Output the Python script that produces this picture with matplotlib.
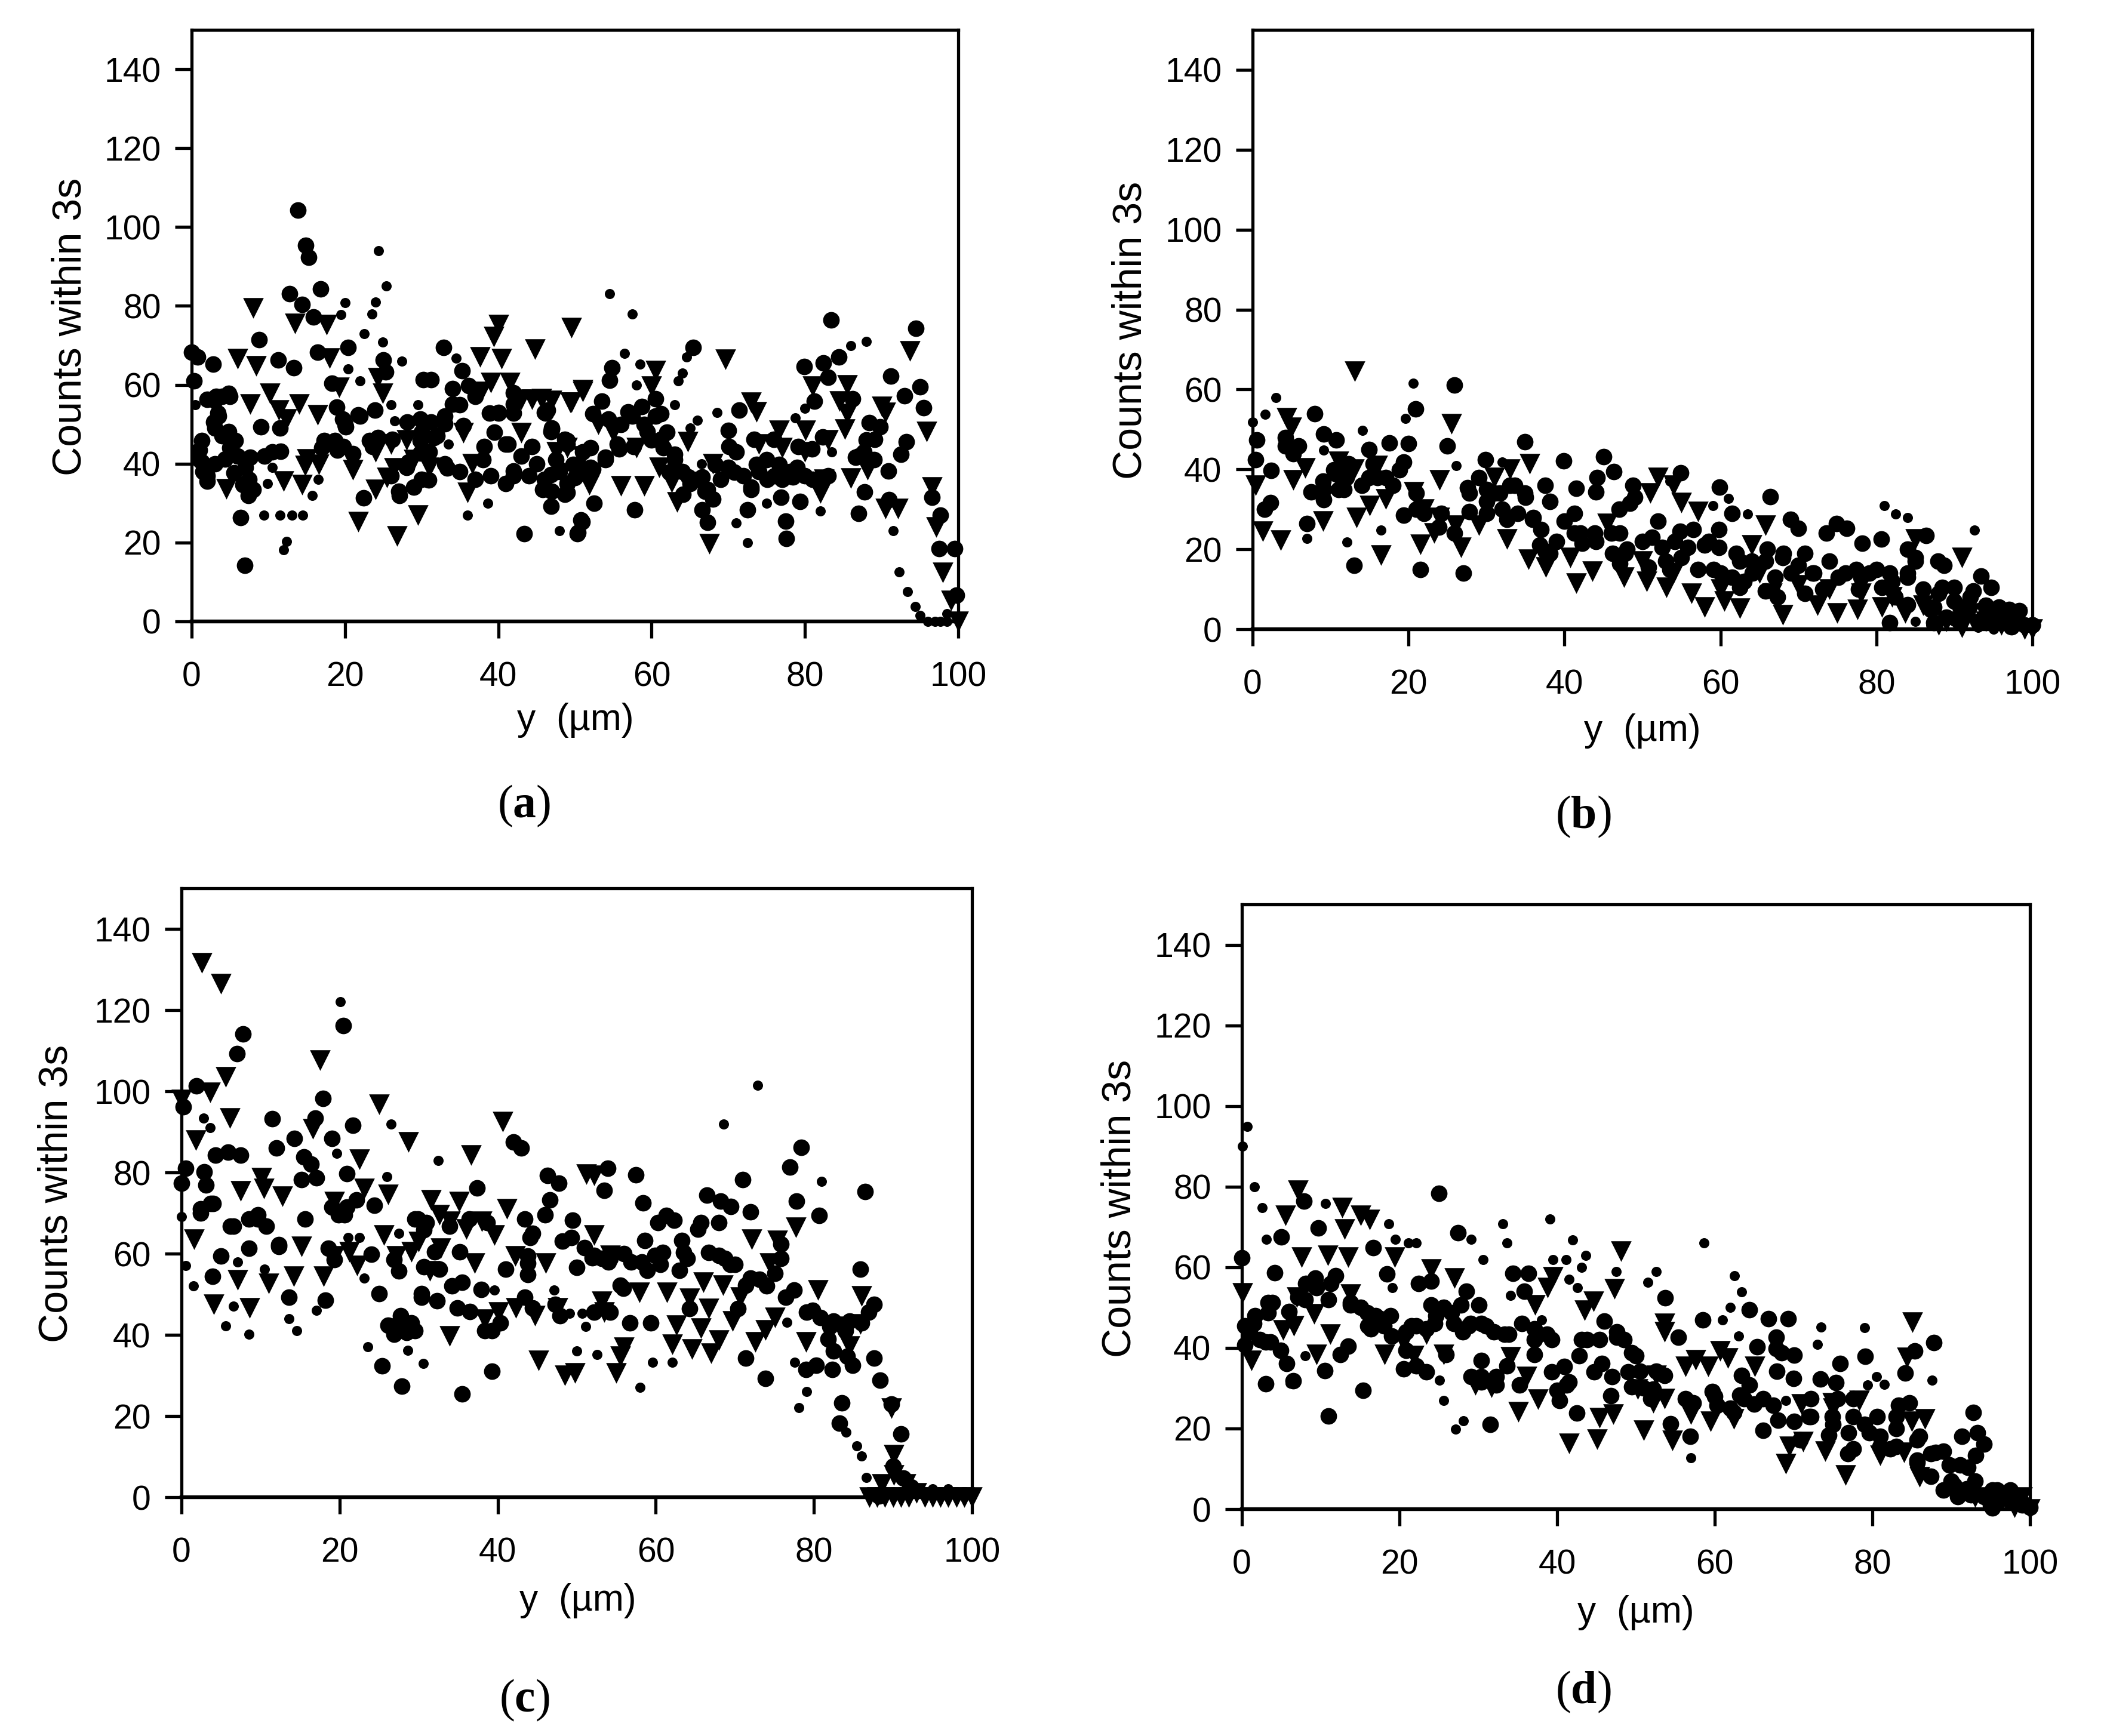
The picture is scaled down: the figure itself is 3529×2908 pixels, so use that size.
#!/usr/bin/env python3
import matplotlib
matplotlib.use("Agg")
import matplotlib.pyplot as plt

plt.rcParams["font.family"] = ["Liberation Sans", "DejaVu Sans"]
plt.rcParams["mathtext.fontset"] = "custom"
plt.rcParams["mathtext.rm"] = "Liberation Serif"
plt.rcParams["mathtext.bf"] = "Liberation Serif:bold"

WIDTH = 3530
HEIGHT = 2908

x_ticks = [0, 20, 40, 60, 80, 100]
y_ticks = [0, 20, 40, 60, 80, 100, 120, 140]

# (y position in um, counts), one list per marker kind
a_circles = [
    (13.9, 104.3), (14.9, 95.4), (15.3, 92.4), (16.8, 84.3), (12.8, 83.1), (14.4, 80.3), (15.9, 77.2), (8.8, 71.4),
    (0, 68.3), (0.8, 67), (2.8, 65.3), (11.3, 66.3), (13.3, 64.4), (16.4, 68.3), (20.4, 69.4), (0.3, 61), (18.3, 60.4),
    (32.9, 69.4), (35.3, 63.6), (25, 66.3), (25.3, 63.3), (23.9, 53.6), (18.9, 54.4), (1.3, 45.8), (6.4, 26.3), (6.9, 14.3),
    (43.4, 22.2), (50.3, 22.2), (50.9, 25.3), (22.4, 31.3), (1, 41), (1.5, 38), (2, 35.5), (3, 40), (4, 47), (5, 44),
    (6, 42), (7, 39), (7.5, 36), (8, 33.5), (9.5, 42), (10.5, 43), (3, 56), (4, 57), (5, 57), (3.5, 52), (3, 49), (11.5, 49),
    (17, 44), (19, 43.5), (21, 42.5), (20, 50), (22, 52), (30, 48), (32, 47), (31, 43), (33, 40), (35, 38), (37, 36), (28, 39),
    (26, 37), (27, 33), (29, 34), (30, 36), (33, 52), (35, 55), (37, 57), (41, 45), (43, 42), (45, 40), (42, 37), (44, 37),
    (40, 53), (42, 58), (46, 53), (47, 49), (49, 45), (51, 43), (39.5, 48), (38, 41), (39, 37), (46, 36), (47, 33), (49, 35),
    (54.8, 64.4), (54.5, 61.2), (65.4, 69.5), (83.4, 76.5), (94.5, 74.3), (84.4, 67), (82.4, 65.6), (79.9, 64.6), (83, 61.9),
    (91.2, 62.2), (95, 59.5), (93, 57.2), (95.5, 54.2), (71.4, 53.6), (88.4, 50.4), (70, 48.4), (53.5, 55.8), (46.4, 53.6),
    (47, 48.8), (57.8, 28.3), (50.8, 25.8), (50.4, 22.5), (52.5, 30), (48.7, 32.2), (79.4, 30.4), (76.9, 31.5), (77.5, 25.5),
    (77.6, 21), (72.5, 28.3), (67.3, 25.1), (87, 27.4), (91, 30.9), (96.6, 31.5), (97.7, 27), (87.8, 32.8), (90.9, 38.2),
    (93.2, 45.6), (92.5, 42.4), (97.5, 18.4), (99.5, 18.4), (99.8, 6.6), (56, 50), (57.5, 52), (59, 50), (60.5, 52), (62, 48),
    (52, 44), (54, 41), (55.5, 45), (60, 46), (61.5, 44), (63, 41), (64, 38), (65, 35), (66, 36), (67, 33), (68, 31), (69, 36),
    (70, 39), (71, 43), (72, 37), (73, 34), (74, 38), (75, 41), (76, 37), (77, 36), (78, 38), (79, 39), (80, 37), (81, 36),
    (82, 35), (83, 37), (87, 42), (88, 46), (89, 41), (48, 38), (50, 36.5), (52, 39), (47.5, 41),
    (2, 56.3), (3.2, 57), (4.8, 57.8), (3.4, 52.8), (2.9, 50.5), (4.8, 48.2), (5.7, 45.8), (4.4, 41.2), (7.6, 41.6), (5.5, 37.7),
    (6.7, 34.6), (7.4, 31.9), (2, 37), (1, 43.5), (1.3, 40.4), (11.6, 43.1), (9, 49.3), (18.7, 45.8), (19.8, 44.3), (17.3, 45.8),
    (20.1, 49.3), (21.7, 52.4), (19.7, 51.3), (23.6, 44.3), (23.2, 45.8), (26.2, 46.2), (24.3, 46.6), (28.1, 50.5), (29.8, 51.3),
    (31.2, 50.5), (33, 50.1), (35.4, 49.7), (31.6, 46.6), (29.8, 45.8), (29.8, 42.7), (28.3, 40.4), (33.3, 38.9), (30.9, 35.8),
    (27.1, 31.9), (30.2, 61.3), (31.2, 61.3), (34, 59), (36.1, 59.8), (34, 55.1), (40, 52.8), (38.9, 52.8), (41.3, 45), (38.2, 44.3),
    (44.4, 44.3), (42, 55.1), (42, 52.8), (46.2, 52.8), (46.9, 48.2), (49, 45.8), (42, 38.1), (41, 35), (45.8, 33.4), (46.9, 37.3),
    (49, 32.7), (46.9, 29.2), (50.7, 38.1), (48.7, 46.2), (52.3, 52.6), (54.4, 51.3), (56.9, 53.2), (58.7, 54.5), (60.5, 56.4),
    (61.2, 52.6), (59.4, 48.1), (55.8, 43.7), (57.6, 44.3), (54, 41.7), (49.8, 39.8), (48, 38.6), (52.3, 38.6), (61.2, 46.2),
    (63, 42.4), (62.3, 37.9), (64.8, 36.6), (66.6, 36.6), (68.3, 39.8), (70.1, 44.3), (70.8, 37.9), (67.3, 33.4), (66.6, 28.3),
    (64.1, 32.2), (73.4, 46.2), (75.9, 46.2), (73.7, 39.8), (76.6, 39.8), (79.1, 44.3), (80.9, 43.7), (82.3, 46.8), (78.4, 36.6),
    (75.1, 36), (73, 33.4), (81.9, 35.4), (87.7, 43), (86.6, 41.7), (89.1, 46.2), (89.8, 49.4), (81.2, 55.8), (86.2, 56.4),
]
a_triangles = [
    (8, 79.5), (13.5, 75.6), (17.6, 75.2), (6, 66.6), (8.4, 64.8), (18, 66.7), (40, 75.2), (39.4, 72.2), (49.5, 74.5), (44.8, 69),
    (37.6, 67.1), (40.4, 66.6), (10.2, 57.8), (7.6, 55.1), (14, 55.1), (11.4, 53.6), (12.4, 51.3), (16.4, 52.4), (24.3, 61.7),
    (24.9, 57.8), (19.2, 59.4), (39, 60.5), (41.5, 60.5), (37.8, 58.2), (44.4, 56.3), (43, 56.3), (47, 56), (49.5, 55.5), (51, 58.2),
    (43, 47.8), (35.4, 47.8), (15, 41.2), (14.8, 39.5), (16.6, 39.8), (21, 38.5), (4.5, 33.6), (12, 35.6), (14.4, 34.6), (24, 33.4),
    (25.5, 36.5), (26.4, 38.9), (36, 32.7), (36.6, 40), (29.5, 26.9), (26.8, 21.7), (21.7, 25.3), (24, 43), (26, 45), (28, 46),
    (29, 41), (31, 39), (51, 58.7), (49.4, 55.5), (45.6, 56.4), (60.5, 63.5), (60, 59.6), (69.6, 66.5), (93.7, 68.6), (81, 59.6),
    (85.5, 60), (84.5, 55.8), (85.5, 52.6), (85.2, 48.8), (73, 55.5), (73.7, 53.2), (76.6, 48.4), (80.1, 48.4), (64.7, 45.6),
    (56, 34.4), (59, 34.4), (51.9, 34.7), (96.6, 34), (86, 36.3), (88.2, 38.5), (90.5, 28.6), (92.1, 28.6), (97.1, 23.9), (98, 12.4),
    (99.1, 5.3), (100, 0), (67.5, 19.7), (90, 54.5), (90.5, 53), (95.9, 48.1), (82, 32.5), (82.5, 36), (63.3, 30.3), (62.6, 35.3),
    (47.6, 43), (49, 44), (51, 42), (53, 50), (55, 48), (58, 44), (61, 39), (68, 40), (74, 45), (77, 44), (80, 43), (83, 46),
]
a_dots = [
    (24.4, 94), (25.4, 85), (20, 80.9), (19.5, 77.8), (24, 81), (23.5, 78), (22.5, 73), (24.9, 70.8), (27.4, 66), (20.4, 64), (22, 61),
    (34.5, 66.7), (26, 55), (29.5, 55), (26.5, 50.9), (33.5, 45), (10.5, 39), (9.9, 35), (9.4, 27), (11.5, 27), (13.1, 27), (14.5, 27),
    (12.4, 20.3), (12, 18.1), (16.5, 36), (15.7, 32), (36, 27), (38.6, 30), (48, 23), (54.5, 83.1), (57.5, 78), (56.5, 67.9), (58.5, 65.2),
    (58, 60), (64, 63), (63.5, 61), (63, 55), (68.5, 53), (66, 51), (65, 49), (86, 70), (88, 71), (71, 25), (72.5, 20), (82, 28), (75, 30),
    (66.5, 40), (83.5, 43), (91.5, 23), (92.3, 12.5), (93.4, 7.6), (94.4, 3.8), (95, 1.5), (96, 0), (97.7, 0), (80, 54), (78.7, 51.6),
    (64.6, 67), (0.5, 55), (98.5, 2), (97, 0), (98.5, 0),
]

b_circles = [
    (25.9, 61.1), (20.9, 55.1), (8, 53.9), (34.9, 46.9), (25, 45.9), (39.9, 42.2), (45, 43.2), (29.9, 42.4), (14.9, 44.9), (17.5, 46.6),
    (20, 46.4), (4.2, 45.9), (5.2, 43.9), (0.5, 47.4), (0.4, 42.4), (2.4, 39.7), (2.3, 31.7), (1.5, 30), (7, 26.5), (13, 16), (21.5, 15),
    (27, 14), (44, 34.4), (44.2, 37.9), (46.3, 39.4), (41.5, 35.2), (37.5, 36), (27.6, 35.4), (27.8, 29.5), (38.1, 32), (9.1, 32.4),
    (7.5, 34.4), (10.4, 39.9), (12, 38), (14, 36), (16, 38), (18, 36), (11, 35), (9, 37), (29, 38), (31, 34), (33, 36), (35, 33), (36, 28),
    (30, 32), (32, 30), (34, 29), (37, 25), (40, 27), (42, 24), (44, 22), (46, 24), (48, 20), (50, 22), (39, 22), (47, 30), (49, 33),
    (54.9, 39.2), (59.9, 35.5), (66.4, 33.2), (74.9, 26.5), (76.2, 25.2), (73.6, 24), (69, 27.5), (70, 25.2), (86.4, 23.5), (80.6, 22.5),
    (78.2, 21.5), (61.5, 29), (87.9, 17), (88.7, 16), (93.4, 13.3), (81.7, 1.6), (54.8, 24.5), (56.5, 25), (59.8, 25), (52, 27), (58, 21),
    (62, 19), (64, 17), (66, 20), (68, 18), (70, 16), (72, 14), (74, 17), (76, 14), (78, 13), (80, 15), (82, 12), (84, 14), (86, 10),
    (88, 9), (90, 7), (92, 8), (94, 6), (96, 4), (98, 2), (99, 1), (85, 17), (55, 18), (53, 17), (60, 14), (63, 12), (67, 13),
    (87, 5), (89, 3), (91, 4), (93, 2), (95, 1.5), (97, 5), (100, 1),
    (10.7, 38.9), (12.3, 39.9), (9.1, 35), (11.7, 35), (14.9, 37.9), (17.1, 37.9), (19.4, 41.9), (18.8, 39.9), (15.5, 41.4), (12.3, 41.4),
    (21, 34), (21, 30), (19.4, 28.5), (22, 29), (24.2, 29), (23.9, 25.5), (25.9, 24), (27.8, 34), (30, 35), (31.7, 34), (33.6, 36), (34.9, 34),
    (30, 29), (32.6, 27.5), (35.9, 27.5), (37.5, 19.5), (36.8, 21), (38.1, 19), (41.3, 24), (41.3, 29), (43.9, 24), (42.3, 21.5), (46.2, 19),
    (47.1, 24), (47.8, 19), (47.1, 16.5), (48.8, 36), (48.4, 31.5), (4.2, 47.9), (5.9, 45.9), (9.1, 48.9), (10.7, 47.4),
    (50.8, 15.5), (52.5, 20.5), (54.1, 22), (55.8, 20.5), (53.5, 15), (51.2, 23), (58.5, 22), (59.8, 20.5), (57.1, 15), (59.1, 15), (62.5, 17),
    (61.5, 13), (64.1, 14), (65.8, 17), (68.1, 19), (70.8, 19), (69.1, 14), (71.8, 14), (70.8, 9), (73.1, 10), (75.1, 13), (77.4, 15), (79.1, 14),
    (81.7, 14), (77.7, 10), (80.7, 10.5), (82.4, 8), (84, 13), (85, 18), (84, 20), (88.4, 10.5), (90, 10.5), (92.4, 9.5), (94.7, 10.5), (87.4, 5.6),
    (90.7, 5.6), (94, 5.6), (95.7, 5.6), (98.3, 4.6), (97.3, 0.6), (87.4, 1.6), (90.7, 1.6), (95.7, 1.6), (100, 1), (84, 6.1), (65.8, 9.6), (67.3, 8),
    (62.5, 10.5),
]
b_triangles = [
    (13.1, 64.6), (25.5, 51.4), (4.4, 52.9), (5, 50.5), (1.3, 24.5), (3.6, 22.2), (16.5, 18.5), (21.5, 21.2), (26.7, 20.5), (0.4, 36),
    (24, 37.4), (20.7, 34.4), (6.7, 40.4), (5.2, 37.4), (13.3, 28), (17.1, 32.5), (35.5, 41.4), (32.6, 22.5), (37.6, 15.5), (41.5, 11.5),
    (43.6, 14.5), (47.6, 13), (45.5, 26.5), (35.4, 17.5), (40.7, 18), (23.3, 24), (15, 31), (11, 42), (13, 40), (16, 41), (9, 27),
    (22, 30), (24, 28), (26, 26), (29, 26), (33, 40), (31, 38), (65.8, 26), (55, 31.7), (57.1, 29.5), (64, 21), (91, 18), (85, 22.5),
    (58, 5.6), (62.5, 5.3), (68, 3.6), (66.6, 9), (72.4, 6), (77.6, 5), (75, 4), (83.7, 4.1), (80.7, 5.6), (53.1, 10.5), (50.5, 12),
    (56.3, 9), (60.5, 7), (52, 38), (54, 36), (51, 34), (50, 17), (54, 14), (60, 10), (65, 14), (70, 11), (74, 10), (78, 9), (82, 8),
    (86, 6), (89, 2), (92, 4), (94, 2), (96, 1), (98, 3), (99, 0), (100, 0), (88, 1), (91, 0.5),
]
b_dots = [
    (3, 57.9), (1.6, 53.8), (0, 51.8), (20.6, 61.6), (19.6, 52.8), (14.1, 49.7), (9.1, 44.8), (26.1, 40.9), (32, 41.9), (16.5, 24.8),
    (12.1, 21.8), (7, 22.7), (53.5, 37), (61, 32.7), (59, 31), (63.5, 28.9), (81, 30.9), (82.5, 28.9), (84, 27.9), (92.6, 24.8),
    (85, 2), (87, 1), (90, 2), (93, 0.5), (95, 0), (97, 0), (98, 1),
]

c_circles = [
    (7.8, 114.1), (7, 109.3), (20.5, 116.2), (17.9, 98.2), (1.9, 101.3), (0.2, 96.2), (11.5, 93.2), (16.9, 93.4), (21.7, 91.6), (19, 88.4),
    (14.3, 88.4), (12, 86.1), (42, 87.5), (43, 86.1), (4.3, 84.2), (5.9, 85), (7.5, 84.2), (0.5, 81), (2.9, 80.1), (0, 77.4), (3.1, 76.9),
    (15.5, 83.8), (16.4, 82), (15.2, 78.3), (17.1, 78.7), (20.9, 79.7), (37.4, 76.2), (46.3, 79.2), (47.7, 77.4), (2.4, 70), (4, 72.3),
    (6.2, 66.8), (9.7, 68.6), (8.5, 61.3), (12.3, 62.2), (5, 59.4), (15.6, 68.6), (19.9, 69.6), (24, 59.9), (29.9, 68.6), (30.7, 65.9),
    (3.9, 54.4), (13.6, 49.3), (25, 50.2), (30.4, 50.2), (32.3, 48.4), (34.2, 52.1), (37.9, 51.2), (18.2, 48.6), (26.1, 42.4), (27.5, 42.9),
    (29.1, 42.9), (26.9, 40.1), (28.5, 40.6), (34.9, 46.6), (39.3, 31), (25.4, 32.3), (27.9, 27.3), (35.5, 25.4), (38.4, 41), (48.2, 63.1),
    (46, 69.6), (44.1, 64), (41, 56.2), (43.8, 57.6), (43.4, 49.3), (53.9, 81.1), (57.5, 79.4), (58.4, 72.5), (78.4, 86.2), (77, 81.3),
    (86.5, 75.3), (72, 70.3), (66.5, 74.4), (68.2, 73), (69.5, 71.6), (71, 78.2), (61.3, 69.4), (49.5, 68.3), (49.3, 63.9), (51, 61.4),
    (50, 56.6), (53.5, 75.6), (77.8, 73), (80.7, 69.4), (85.9, 56.2), (87.6, 47.5), (87.6, 34.3), (88.4, 28.8), (89.8, 23), (91, 15.6),
    (83.5, 23.3), (83.2, 18.2), (73.9, 29.3), (71.4, 34.3), (82.3, 31.4), (80.3, 32.5), (79, 31.4), (79.8, 46), (77.5, 51.1), (56.7, 43),
    (59.4, 43), (55.5, 52.2), (59.9, 59.5), (58.2, 58), (68, 67.6), (68, 59.5), (70, 57.3), (66.7, 60.3), (63.5, 60.3), (63.3, 63.2),
    (65.7, 67.6), (52, 59), (54, 58), (56, 60), (82, 42), (84, 41), (86, 43), (74, 52), (72, 54),
    (9.7, 69.5), (10.7, 66.8), (6.6, 66.8), (2.4, 71), (3.7, 72.3), (12.3, 61.7), (8.5, 68.6), (20.9, 71.4), (19, 71.4), (24.4, 71.9), (20.6, 69.5),
    (22.1, 73.2), (29.5, 68.6), (31, 67.7), (32, 60.4), (35.2, 60.4), (33.9, 66.8), (36.4, 68.6), (38.7, 67.7), (43.4, 68.6), (46.6, 73.2), (44.4, 65),
    (30.7, 56.7), (32.6, 56.2), (35.5, 53), (30.4, 49.3), (36.5, 45.7), (40.3, 42.9), (39.3, 41), (27.7, 44.7), (29.5, 41), (43.8, 59.4), (43.8, 54.8),
    (44.4, 46.6), (47.9, 44.7), (47.3, 47.5), (18.6, 61.3), (19.3, 58.5), (26.9, 58.5), (27.5, 55.8),
    (52.2, 59.5), (53.2, 58.8), (54.2, 58.8), (56.9, 58), (58.9, 55.9), (60.6, 57.3), (60.9, 60.3), (58.6, 63.2), (64, 58.8), (63, 55.9), (65.3, 66.1),
    (62.3, 68.3), (60.3, 67.6), (68.7, 58.8), (69.4, 57.3), (75.8, 62.4), (75.8, 58.8), (75.1, 55.1), (73.1, 53.7), (71.4, 52.2), (76.4, 49.3),
    (79.1, 45.6), (80.8, 44.2), (82.5, 43.4), (84.5, 43.4), (86.9, 45.6), (81.8, 39), (82.5, 36.1), (84.2, 34.7), (84.9, 32.5), (90, 7.6), (91.3, 4.7),
    (92.3, 2.5), (88.2, 0.3), (54.2, 45.6), (52.2, 45.6), (64.3, 46.4), (70.4, 46.4), (55.9, 51.5),
]
c_triangles = [
    (2.6, 131.6), (5, 126.5), (17.5, 107.7), (5.6, 103.6), (3.6, 99.7), (0, 98), (6.1, 93.4), (25, 96.7), (28.7, 87.5), (40.6, 92.5),
    (36.6, 84.3), (1.8, 87.9), (10.1, 78.7), (7.5, 75.5), (10.4, 76), (12.8, 74.1), (22.5, 83.3), (16.6, 90.7), (19.3, 72.8), (23.1, 76),
    (26.1, 74.6), (31.6, 73.2), (35.1, 72.8), (32.6, 69.6), (1.6, 63.6), (15.2, 61.7), (25.6, 64.5), (21.2, 60.4), (19.3, 59.4), (22.2, 57.1),
    (29.1, 60.4), (27.2, 59.4), (7.1, 53.5), (11, 52.6), (14.2, 54.4), (18, 54.4), (4.1, 47.5), (8.6, 46.6), (31.4, 55.8), (37.1, 57.6),
    (32.8, 61.3), (39.6, 64.5), (41.2, 71), (45.2, 33.7), (48.5, 30), (33.9, 39.7), (40.1, 45.6), (38.4, 43.8), (42.2, 59.4), (46.1, 57.6),
    (42.3, 46.6), (44.7, 44.7), (47.6, 46.6), (30, 63), (36, 66), (38, 68), (34, 68), (52.2, 64.6), (52.2, 79.3), (51.2, 79.6), (77.7, 66.5),
    (75.4, 63.2), (74.4, 57.7), (72.1, 63.5), (86, 49.6), (80.5, 51.1), (75.1, 44.2), (73.9, 41.2), (72.6, 38.3), (79, 38.3), (84.5, 37.2),
    (89.8, 21.9), (90.1, 10.5), (88.6, 3.2), (90.1, 5.4), (91.6, 3.2), (53.2, 48.2), (57.9, 50.4), (61.4, 50.4), (64.3, 48.9), (66, 53),
    (68.5, 52.2), (70.7, 49.3), (66.7, 46.4), (69.7, 43.4), (62.6, 42.3), (65.7, 41.6), (56, 36.9), (55.5, 34.7), (62.1, 37.6), (64.6, 36.5),
    (67, 35.4), (68, 38.7), (55, 30.6), (49.8, 30.6), (53.5, 45.6), (54.2, 59.5), (81.7, 42), (83.2, 42), (85.9, 42.7), (87, 0), (88, 0),
    (89, 0), (90, 0), (91, 0), (92, 0), (93, 1), (94, 0), (95, 0), (96, 0), (97, 0), (98, 0), (99, 0), (100, 0),
]
c_dots = [
    (20.1, 122.1), (26.5, 91.9), (3.6, 91), (2.8, 93.4), (19.6, 84.7), (32.5, 82.9), (26, 79), (0, 69.1), (0.5, 57.1), (1.5, 52.1), (7.1, 57.9),
    (10.5, 56.2), (6.6, 47), (5.6, 42.2), (8.5, 40.1), (13.6, 44), (14.6, 41), (17.1, 46.1), (21.1, 64), (22.5, 64), (27.5, 65), (23.1, 53.9),
    (23.6, 37.1), (28.6, 36.2), (30.6, 33), (39.6, 51), (47.1, 51), (72.9, 101.4), (68.6, 91.9), (81, 77.8), (51.1, 42.1), (50, 36.1), (52.6, 35.2),
    (59.6, 33.2), (62.1, 33.2), (58, 27), (76.6, 43.1), (79.1, 26), (78.1, 22), (77.6, 33.2), (86.6, 4.9), (86, 10.1), (85.4, 12.7), (84.1, 16),
    (50.7, 45.3), (49.1, 45.3), (93, 2), (95, 2), (97, 2), (99, 1),
]

d_circles = [
    (25, 78.4), (7.9, 76.4), (5, 67.5), (27.4, 68.5), (9.7, 69.8), (0, 62.4), (4.2, 58.6), (16.7, 64.9), (18.4, 58.3), (34.4, 58.5), (36.4, 58.5),
    (35.8, 54), (37.1, 38.3), (12.5, 38.4), (13.5, 40.4), (10.5, 34.3), (3, 31.1), (6.5, 31.8), (15.4, 29.5), (11, 23.1), (31.5, 21.1), (25.9, 38.4),
    (30.4, 36.8), (30.4, 32.8), (35.2, 30.8), (32.3, 30.8), (40.9, 35.4), (39.3, 34.1), (41.2, 30.8), (40.3, 26.9), (42.5, 23.9), (46.8, 28.2),
    (44.7, 34.1), (46, 46.7), (43.8, 42), (42.8, 38.1), (47.6, 44), (1.5, 46), (0.4, 45.4), (3, 41.4), (3.3, 51.3), (35.5, 46), (31, 45.4), (33.3, 43.4),
    (39.3, 42), (37.1, 42), (30.1, 50.6), (26.6, 48.7), (28.5, 54), (24, 56.6), (22.4, 55.9), (17.6, 47.3), (13.8, 50.6), (15.9, 48.7), (21.5, 45.4),
    (16.4, 44.7), (23.4, 34.1), (20.5, 34.8), (8, 52), (9.5, 55), (11, 52), (6, 49), (19, 43), (24.5, 46), (28, 44), (29, 46), (53.7, 52.4), (64.4, 49.4),
    (58.5, 47), (66.8, 47.3), (69.3, 47.3), (87.8, 41.3), (65.4, 40.3), (55.4, 42.7), (75.9, 36.2), (79.1, 37.9), (85.4, 39.3), (84.2, 33.7), (67.9, 34.2),
    (70, 32.5), (73.4, 32.3), (75.4, 31.4), (92.8, 24), (93.3, 18.9), (91.4, 18.1), (94.2, 16.1), (83.3, 25.7), (56.9, 18.1), (54.4, 21.2), (76.9, 13.8),
    (66.1, 19.5), (63.2, 28.3), (82.3, 15), (90.8, 3.1), (89, 4.8), (87.4, 8.2), (85.7, 12.1), (92.1, 10.4), (89.8, 11), (94.2, 3.1), (95.8, 4.8), (97.5, 4.8),
    (49, 34), (51, 30), (50, 38), (48.5, 42), (60, 28), (62, 25), (65, 26), (68, 22), (72, 23), (75, 21), (77, 19), (79, 21), (81, 18), (83, 20),
    (86, 18), (88, 14), (90, 7), (92, 5), (96, 2), (98, 2), (99, 1), (100, 0.5), (93, 7), (95, 1),
    (9.3, 55.3), (11.3, 55.9), (8.1, 55.9), (9.3, 57.3), (11.9, 57.9), (7.1, 52.6), (3.9, 51.3), (3.3, 48.7), (1.7, 48), (1, 44), (2.3, 42), (3.6, 41.4),
    (0.4, 40.7), (4.9, 39.4), (5.7, 36.1), (13.8, 51.3), (15.1, 50), (17, 48), (18.9, 48), (16, 45.4), (18, 45.4), (20.8, 44), (22.1, 45.4), (20.8, 39.4),
    (23.4, 44.7), (22.1, 35.5), (24, 50.6), (25.6, 50), (27.8, 50.6), (24.6, 48), (26.9, 46), (28.8, 45.4), (30.4, 46), (32, 44), (33.9, 43.4), (37.1, 44.7),
    (38.7, 43.4), (29.1, 32.8), (30.4, 31.5), (32.3, 32.8), (33.6, 35.5), (40, 29.5), (41.5, 31.5), (43.1, 42), (45.4, 42), (47.6, 42.7), (45.7, 36.1), (47, 32.8),
    (49.5, 38.8), (50.5, 34.2), (52.6, 34.2), (53.6, 33.1), (51.9, 27.4), (52.2, 29.7), (49.5, 30.3), (56.3, 27.4), (57.3, 26.3), (59.7, 29.1), (60.3, 25.7),
    (62.4, 24), (63.7, 27.4), (66.1, 27.4), (67.4, 25.7), (64.4, 30.8), (63.4, 33.1), (67.8, 39.9), (68.5, 38.8), (70.1, 38.2), (67.8, 42.7), (72.2, 27.4),
    (75.6, 27.4), (77.6, 27.4), (72.2, 22.9), (74.9, 22.9), (77.6, 22.9), (80.6, 22.9), (83, 22.9), (84.7, 26.3), (70.1, 21.8), (70.8, 17.2), (74.5, 18.4),
    (77.6, 15), (79.6, 19), (81, 15.5), (83, 15.5), (85.7, 17.2), (87.4, 13.8), (89, 14.4), (91.1, 11), (93.1, 13.3), (85.7, 11.6), (90.4, 5.9), (92.5, 3.6),
    (95.2, 4.8), (97.5, 2), (99.2, 1.4), (95.2, 0.3),
]
d_triangles = [
    (7.1, 79), (12.7, 74.8), (5.5, 72.8), (15.1, 72.8), (16.2, 71.8), (13, 69.5), (7.6, 62.5), (10.9, 62.9), (13.5, 62.5), (19.4, 62.5), (24, 59.6),
    (27, 57.3), (39.5, 57.6), (38.8, 55), (37.2, 50.6), (44.6, 51.6), (43.5, 49.3), (48.1, 63.9), (47.3, 54.6), (0.1, 53.6), (1.2, 36.8), (9.2, 48.4),
    (7, 52.6), (6.6, 45.4), (5.2, 44.4), (11.2, 43.4), (9.5, 38.4), (18.1, 38.4), (25.6, 38.4), (20.5, 41.4), (21.8, 38.1), (23.4, 43.4), (34.1, 37.8),
    (31.7, 30.2), (29.6, 30.8), (36.1, 32.8), (37.6, 27.2), (35.1, 24.2), (41.5, 16.3), (45.1, 17.3), (45.4, 22.6), (47.1, 23.6), (13.8, 53.3), (51, 19.5),
    (53.6, 46.1), (53.6, 44), (85.1, 46.4), (76.6, 8.5), (69, 11.3), (54.6, 17), (61.7, 37.4), (60.7, 39.3), (57.6, 37), (65.1, 35.4), (56.3, 35.4),
    (59.2, 35.4), (84.4, 37.6), (86.7, 22.3), (85, 21.8), (52.2, 26.3), (57, 23.5), (59.5, 21.8), (62.4, 22.3), (53.6, 27.4), (78.3, 26.9), (74.9, 26.3),
    (71.2, 16.7), (69.5, 15.5), (74, 14.4), (81, 13.3), (52.6, 33.1), (50.2, 29.7), (84, 14), (86, 8), (93, 3), (96, 3), (98, 0.5), (100, 0), (99, 3),
    (71, 26), (75, 25),
]
d_dots = [
    (0.7, 94.9), (0.1, 90), (1.6, 79.9), (2.6, 74.8), (10.6, 75.8), (18.6, 70.8), (19.5, 67), (3.1, 67), (29.1, 67), (33.1, 70.8), (33.6, 66), (39.1, 72),
    (42, 66.8), (30.6, 61.9), (39.5, 61.9), (41.1, 61.9), (43.6, 62.9), (43.1, 59.9), (47.5, 58.9), (41.5, 57), (42.6, 55), (34.1, 53), (19.1, 55), (21.1, 66),
    (22.1, 66), (8, 38), (6.1, 31.2), (25.1, 32), (25.6, 27), (28.1, 21.9), (27.1, 19.8), (38, 47), (58.6, 66), (52.6, 58.9), (51.5, 56.2), (62.5, 57.9),
    (63.4, 53.9), (62, 50.1), (61, 47), (63, 43), (73.5, 45.1), (73, 40.9), (79, 45), (87.6, 32), (80.5, 32.9), (79.4, 30.8), (81.5, 31), (57, 12.7), (69, 26.9),
]

a_panel = (a_circles, a_triangles, a_dots)
b_panel = (b_circles, b_triangles, b_dots)
c_panel = (c_circles, c_triangles, c_dots)
d_panel = (d_circles, d_triangles, d_dots)


def draw_panel(fig, points, box, xlabel_at, ylabel_at, caption_at, caption):
    left, right, top, zero = box
    # ylim runs to 150 so the plot box has to go through the top pixel
    ax = fig.add_axes([left / WIDTH, 1 - zero / HEIGHT, (right - left) / WIDTH, (zero - top) / HEIGHT])
    for pts, marker, size in zip(points, ["o", "v", "o"], [400, 620, 150]):
        xs, ys = zip(*pts)
        ax.scatter(xs, ys, s=size, marker=marker, color="black", linewidths=0, clip_on=False, zorder=3)
    ax.set_xlim(0, 100)
    ax.set_ylim(0, 150)
    ax.set_xticks(x_ticks)
    ax.set_yticks(y_ticks)
    ax.tick_params(axis="x", length=20, width=3.8, pad=28, labelsize=41, color="black")
    ax.tick_params(axis="y", length=20, width=3.8, pad=17, labelsize=41, color="black")
    for name in ax.spines:
        ax.spines[name].set_linewidth(3.8)
    ax.spines["bottom"].set_linewidth(4.6)
    scale = 3530 / 1568
    fig.text(xlabel_at[0] * scale / WIDTH, 1 - xlabel_at[1] * scale / HEIGHT, "y  (\u00b5m)",
             ha="center", va="center", fontsize=45)
    fig.text(ylabel_at[0] * scale / WIDTH, 1 - ylabel_at[1] * scale / HEIGHT, "Counts within 3s",
             ha="center", va="center", rotation=90, fontsize=49)
    fig.text(caption_at[0] * scale / WIDTH, 1 - caption_at[1] * scale / HEIGHT, caption,
             ha="center", va="center", fontsize=56, family="Liberation Serif")


def main():
    fig = plt.figure(figsize=(WIDTH / 100, HEIGHT / 100), dpi=100)
    draw_panel(fig, a_panel, (321, 1605, 50, 1041), (428, 536), (52, 243), (390, 600), r"($\mathbf{a}$)")
    draw_panel(fig, b_panel, (2098, 3404, 50, 1054), (1222, 544), (841, 246), (1178, 608), r"($\mathbf{b}$)")
    draw_panel(fig, c_panel, (304, 1628, 1488, 2508), (430, 1191), (42, 888), (390, 1265), r"($\mathbf{c}$)")
    draw_panel(fig, d_panel, (2080, 3400, 1515, 2528), (1217, 1200), (833, 899), (1178, 1259), r"($\mathbf{d}$)")
    fig.savefig("out.png", dpi=100)
    plt.close(fig)


if __name__ == "__main__":
    main()
